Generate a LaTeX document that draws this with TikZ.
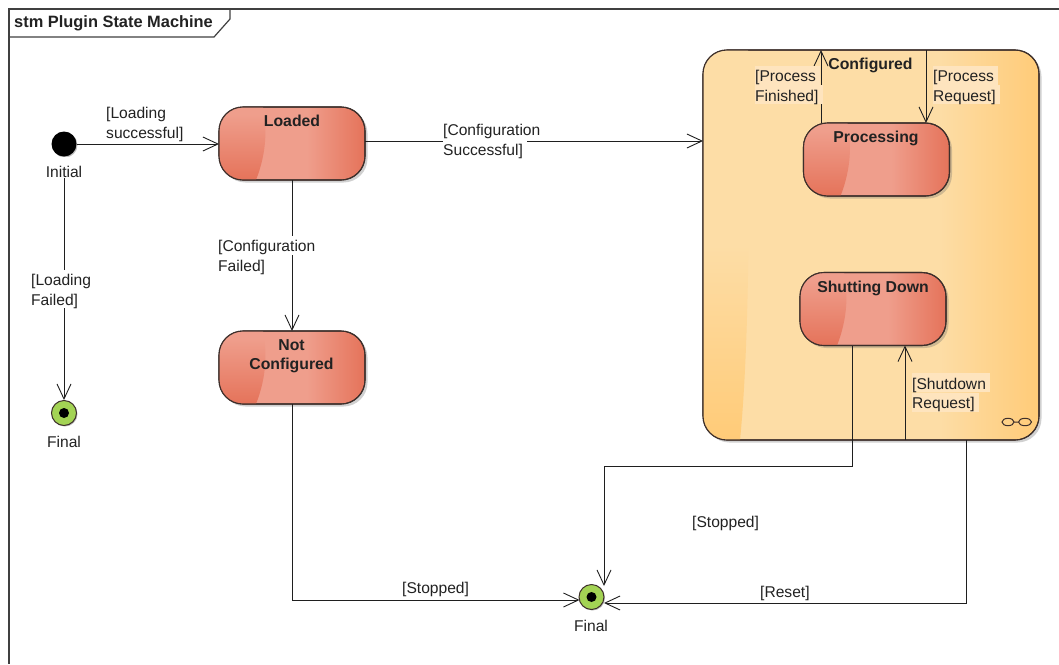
\documentclass[tikz,border=0pt]{standalone}
\usepackage{fontspec}
\setmainfont{Liberation Sans}
\usetikzlibrary{arrows.meta,shadows,calc}
\definecolor{stL}{HTML}{EF9E8C}
\definecolor{stR}{HTML}{E5735A}
\definecolor{cfL}{HTML}{FDDDA6}
\definecolor{cfR}{HTML}{FFCB78}
\definecolor{cfP}{HTML}{FEE4BE}
\definecolor{ink}{HTML}{222222}
\definecolor{edgeC}{HTML}{3D2F2B}
\pgfdeclarehorizontalshading{stateH}{100bp}{color(0bp)=(stL);color(25bp)=(stL);color(55bp)=(stL);color(75bp)=(stR);color(100bp)=(stR)}
\pgfdeclareverticalshading{stateV}{100bp}{color(0bp)=(stR);color(25bp)=(stR);color(70bp)=(stL);color(100bp)=(stL)}
\pgfdeclarehorizontalshading{cfgH}{100bp}{color(0bp)=(cfL);color(25bp)=(cfL);color(60bp)=(cfL);color(75bp)=(cfR);color(100bp)=(cfR)}
\pgfdeclareverticalshading{cfgV}{100bp}{color(0bp)=(cfR);color(25bp)=(cfR);color(50bp)=(cfL);color(100bp)=(cfL)}
\newcommand{\txt}{\fontsize{15.6}{19.3}\selectfont}
\newcommand{\txtb}{\fontsize{15.8}{19.8}\selectfont\bfseries}
\newcommand{\txtf}{\fontsize{16.4}{19.8}\selectfont\bfseries}
\newcommand{\bgl}[2]{{\setlength{\fboxsep}{0pt}\colorbox{#1}{\rule[-3pt]{0pt}{18.9pt}#2\hspace{4pt}}}}
\newcommand{\stateswoop}[1]{%
  \begin{scope}[shift={(#1.north west)}]
    \begin{scope}
      \clip[rounded corners=24pt] (0,0) rectangle (146,73);
      \shade[shading=stateV] (0,0) -- (44,0) .. controls (48,20) and (48,45) .. (37,73) -- (0,73) -- cycle;
    \end{scope}
    \draw[draw=edgeC,line width=1.1pt,rounded corners=24pt] (0,0) rectangle (146,73);
  \end{scope}}
\tikzset{
  statebox/.style={draw=edgeC,line width=1.1pt,rounded corners=24pt,shade,shading=stateH,
    minimum width=146pt,minimum height=73pt,inner sep=0pt,outer sep=0pt,
    drop shadow={shadow xshift=2.5pt,shadow yshift=-2.5pt,opacity=.3,fill=black!60}},
  cfgbox/.style={draw=edgeC,line width=1.1pt,rounded corners=24pt,shade,shading=cfgH,
    minimum width=336pt,minimum height=390pt,inner sep=0pt,outer sep=0pt,
    drop shadow={shadow xshift=2.5pt,shadow yshift=-2.5pt,opacity=.3,fill=black!60}},
  statetitle/.style={font=\txtb,text=ink,align=center,anchor=north,inner sep=0pt},
  startdot/.style={circle,fill=black,minimum size=25pt,inner sep=0pt,
    drop shadow={shadow xshift=1pt,shadow yshift=-1pt,opacity=.25,fill=black}},
  enddot/.style={circle,draw=edgeC,line width=1pt,minimum size=25pt,inner sep=0pt,
    fill={rgb,255:red,163;green,211;blue,84},
    drop shadow={shadow xshift=1pt,shadow yshift=-1pt,opacity=.25,fill=black}},
  pupil/.style={circle,fill=black,minimum size=10pt,inner sep=0pt},
  conn/.style={draw=black!88,line width=1pt,-{Straight Barb[length=15pt,width=14pt,line width=.9pt]}},
  lbl/.style={font=\txt,text=ink,align=left,anchor=north west,inner sep=0pt},
  plbl/.style={font=\txt,text=ink,anchor=base west,inner sep=0pt},
  clbl/.style={font=\txt,text=ink,anchor=base,fill=white,inner sep=0pt,text height=20pt,text depth=1pt},
}
\begin{document}
\begin{tikzpicture}[x=1pt,y=-1pt]
\useasboundingbox (0,0) rectangle (1059,664);
\fill[white] (0,0) rectangle (1059,664);
% frame
\draw[draw=black!75,line width=1.2pt] (1059,9) -- (9,9) -- (9,664);
\draw[draw=black!75,line width=1.2pt] (230,9) -- (230,19) -- (214,37) -- (9,37);
\node[font=\txtf,text=ink,anchor=west,inner sep=0pt] (frametitle) at (14,23.5) {stm Plugin State Machine};
% states
\node[cfgbox] (configured) at (871,245) {};
\begin{scope}[shift={(configured.north west)}]
  \begin{scope}
    \clip[rounded corners=24pt] (0,0) rectangle (336,390);
    \shade[shading=cfgV] (0,0) -- (45,0) .. controls (47,150) and (46,300) .. (37,390) -- (0,390) -- cycle;
  \end{scope}
  \draw[draw=edgeC,line width=1.1pt,rounded corners=24pt] (0,0) rectangle (336,390);
\end{scope}
\node[statetitle] (cfgtitle) at (870.5,58) {Configured};
\node[statebox] (loaded) at (292,143.5) {};
\stateswoop{loaded}
\node[statetitle] (loadedt) at (292,115) {Loaded};
\node[statebox] (notconf) at (292,367.5) {};
\stateswoop{notconf}
\node[statetitle] (notconft) at (291.5,339) {Not\\Configured};
\node[statebox] (processing) at (876.5,159.5) {};
\stateswoop{processing}
\node[statetitle] (processingt) at (876,131) {Processing};
\node[statebox] (shutting) at (873,309) {};
\stateswoop{shutting}
\node[statetitle] (shuttingt) at (873,280.5) {Shutting Down};
\node[startdot] (initial) at (64,144) {};
\node[enddot] (final1) at (64,413) {};
\node[pupil] (pupil1) at (64,413) {};
\node[enddot] (final2) at (591.5,597) {};
\node[pupil] (pupil2) at (591.5,597) {};
% infinity icon
\draw[edgeC,line width=1pt] (1008,422) ellipse (6 and 3.7) (1025,422) ellipse (6.5 and 3.7) (1014,422) -- (1018.5,422);
% connectors
\draw[conn] (initial) -- (loaded.west |- initial);
\draw[conn] (initial) -- (final1);
\draw[conn] (loaded.east |- 0,141) -- (configured.west |- 0,141);
\draw[conn] (loaded.south) -- (notconf.north);
\draw[conn] (notconf.south) |- ([xshift=-12pt,yshift=-3pt]final2.center);
\draw[conn] ([xshift=-55.5pt]processing.north) -- ([xshift=-55.5pt]processing.north |- configured.north);
\draw[conn] ([xshift=49.5pt]processing.north |- configured.north) -- ([xshift=49.5pt]processing.north);
\draw[conn] ([xshift=32pt]shutting.south |- configured.south) -- ([xshift=32pt]shutting.south);
\draw[conn] ([xshift=-21pt]shutting.south) |- (604,466) -- ([xshift=12.5pt,yshift=11pt]final2.center);
\draw[conn] ([xshift=95pt]configured.south) |- ([xshift=12.5pt,yshift=-6pt]final2.center);
% labels
\node[lbl] (l1) at (106,102.6) {\bgl{white}{[Loading}\\\bgl{white}{successful]}};
\node[lbl] (l2) at (443,119.6) {\bgl{white}{[Configuration}\\\bgl{white}{Successful]}};
\node[lbl] (l3) at (218,235.6) {\bgl{white}{[Configuration}\\\bgl{white}{Failed]}};
\node[lbl] (l4) at (31,269.6) {\bgl{white}{[Loading}\\\bgl{white}{Failed]}};
\node[lbl] (l5) at (755,65.6) {\bgl{cfP}{[Process}\\\bgl{cfP}{Finished]}};
\node[lbl] (l6) at (933,65.6) {\bgl{cfP}{[Process}\\\bgl{cfP}{Request]}};
\node[lbl] (l7) at (912,373.1) {\bgl{cfP}{[Shutdown}\\\bgl{cfP}{Request]}};
\node[plbl] (l8) at (402,593.5) {[Stopped]};
\node[plbl] (l9) at (692,527.5) {[Stopped]};
\node[plbl] (l10) at (760,597.5) {[Reset]};
\node[clbl] (initl) at (64,177) {Initial};
\node[clbl] (fin1l) at (64,447) {Final};
\node[clbl] (fin2l) at (591,631) {Final};
\end{tikzpicture}
\end{document}
